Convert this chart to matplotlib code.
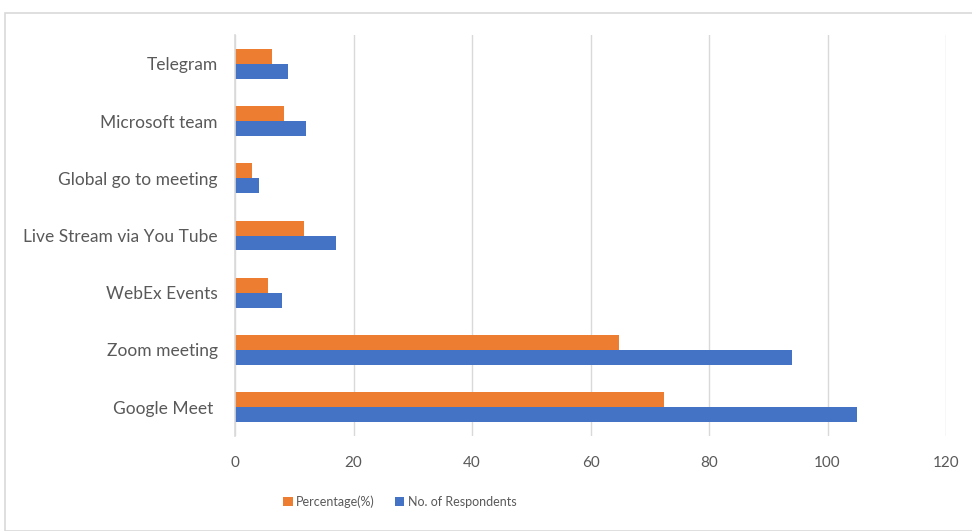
import matplotlib
matplotlib.use("Agg")
import matplotlib.pyplot as plt
from matplotlib.patches import Rectangle
import numpy as np

plt.rcParams['font.family'] = ['Lato', 'DejaVu Sans']

categories = ["Google Meet ", "Zoom meeting", "WebEx Events", "Live Stream via You Tube",
              "Global go to meeting", "Microsoft team", "Telegram"]
respondents = [105, 94, 8, 17, 4, 12, 9]
percentage = [72.4, 64.8, 5.5, 11.7, 2.8, 8.3, 6.2]
xticks = [0, 20, 40, 60, 80, 100, 120]

orange = "#ED7D31"
blue = "#4472C4"
grey_text = "#595959"
grid_c = "#d9d9d9"

fig = plt.figure(figsize=(9.72, 5.31), dpi=100)
ax = fig.add_axes([235/972, 1-435.6/531, (946-235)/972, (435.6-35.4)/531])

y = np.arange(len(categories))
h = 0.26
ax.barh(y + h/2, percentage, height=h, color=orange, label="Percentage(%)", zorder=3)
ax.barh(y - h/2, respondents, height=h, color=blue, label="No. of Respondents", zorder=3)

ax.set_xlim(0, 120)
ax.set_ylim(-0.5, len(categories) - 0.5)
ax.set_xticks(xticks)
ax.set_xticklabels([str(v) for v in xticks])
ax.set_yticks(y)
ax.set_yticklabels(categories)
ax.tick_params(axis='both', length=0, colors=grey_text)
ax.tick_params(axis='x', pad=15, labelsize=11)
ax.tick_params(axis='y', pad=12.5, labelsize=12.5)
ax.xaxis.grid(True, color=grid_c, linewidth=1, zorder=0)
for s in ['top', 'right', 'bottom']:
    ax.spines[s].set_visible(False)
ax.spines['left'].set_color(grid_c)
ax.spines['left'].set_linewidth(1.2)
ax.spines['left'].set_zorder(4)

handles, labels = ax.get_legend_handles_labels()
leg = fig.legend(handles, labels, loc='center', bbox_to_anchor=(400/972, 1-502/531), ncol=2,
                 frameon=False, fontsize=9, handlelength=0.75, handleheight=0.75,
                 handletextpad=0.3, columnspacing=1.6, labelcolor=grey_text)

fig.patches.append(Rectangle((5/972, 0), 1.0, 1-13/531, transform=fig.transFigure,
                             fill=False, edgecolor=grid_c, linewidth=1.2))

fig.savefig("out.png", dpi=100)
